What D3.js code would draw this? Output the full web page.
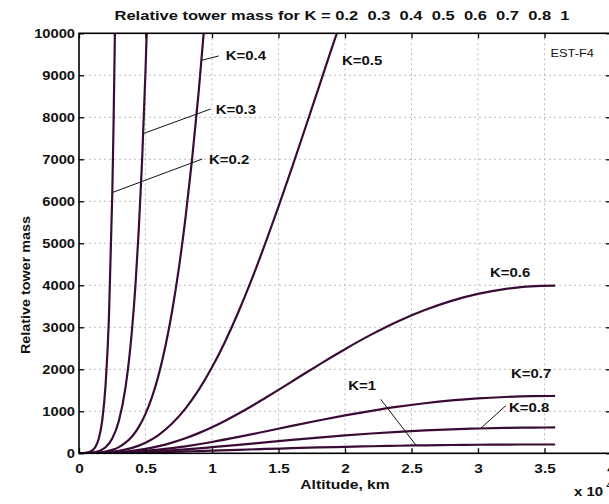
<!DOCTYPE html>
<html><head><meta charset="utf-8">
<script src="https://cdn.jsdelivr.net/npm/d3@7"></script>
<style>
html,body{margin:0;padding:0;background:#fff;overflow:hidden}
svg{display:block}
text{font-family:"Liberation Sans",Arial,sans-serif;font-weight:bold;fill:#111}
</style></head><body>
<script>
// ---------- data (altitude in 10^4 km, relative tower mass) ----------
const kNames = ["K=0.2","K=0.3","K=0.4","K=0.5","K=0.6","K=0.7","K=0.8","K=1"];
const altK02 = [0,0.05,0.1,0.125,0.15,0.175,0.2,0.225,0.25,0.26,0.27,0.28];
const massK02 = [1,9.5,67,161,366,792,1634,3228,6145,7868,10000,12690];
const altK03 = [0,0.05,0.1,0.15,0.2,0.25,0.3,0.35,0.375,0.4,0.425,0.45,0.475,0.5,0.525];
const massK03 = [1,4.5,17,53,144,350,774,1577,2189,2992,4029,5354,7019,9103,11620];
const altK04 = [0,0.1,0.15,0.2,0.25,0.3,0.35,0.4,0.45,0.5,0.55,0.6,0.65,0.7,0.75,0.8,0.85,0.9,0.95];
const massK04 = [1,8.3,20,42,81,147,252,407,630,939,1348,1879,2553,3381,4389,5589,6991,8612,10470];
const altK05 = [0,0.1,0.2,0.3,0.4,0.5,0.6,0.7,0.8,0.9,1.0,1.1,1.2,1.3,1.4,1.5,1.6,1.7,1.8,1.9,2.0];
const massK05 = [1,5.5,20,56,128,252,441,708,1063,1509,2047,2670,3375,4151,4991,5873,6789,7733,8685,9640,10570];
const altK06 = [0,0.1,0.2,0.3,0.4,0.5,0.6,0.7,0.8,0.9,1.0,1.1,1.2,1.3,1.4,1.5,1.6,1.7,1.8,1.9,2.0,2.2,2.4,2.6,2.8,3.0,3.2,3.4,3.58];
const massK06 = [1,4.2,12.7,30,60,106,170,254,357,480,621,777,947,1127,1317,1510,1708,1905,2100,2293,2479,2831,3145,3410,3630,3795,3907,3975,3990];
const altLow = [0,0.1,0.2,0.3,0.4,0.5,0.6,0.7,0.8,0.9,1.0,1.2,1.4,1.6,1.8,2.0,2.2,2.4,2.6,2.8,3.0,3.2,3.4,3.58];
const massK07 = [1,3.5,9.1,19,35,58,87,124,167,216,270,390,520,652,780,902,1012,1110,1191,1258,1308,1341,1361,1365];
const massK08 = [1,3.1,7.2,14,24,37,53,73,95,119,146,202,261,319,374,425,472,512,545,572,591,606,613,615];
const massK1  = [1,2.5,5.1,9,14,20,27,35.5,44,54,63,83,103,121,139,154,168,180,190,198,203,207,210,210];

const xTicks = [0,0.5,1,1.5,2,2.5,3,3.5,4];
const xTickLabels = ["0","0.5","1","1.5","2","2.5","3","3.5","4"];
const yTicks = [0,1000,2000,3000,4000,5000,6000,7000,8000,9000,10000];
const yTickLabels = ["0","1000","2000","3000","4000","5000","6000","7000","8000","9000","10000"];

// label anchors (data units): [text, altitude, mass]
const labelPos = [["K=0.2",0.977,7007],["K=0.3",1.028,8198],["K=0.4",1.103,9467],["K=0.5",1.977,9364],
                  ["K=0.6",3.09,4300],["K=0.7",3.248,1905],["K=0.8",3.233,1090],["K=1",2.025,1626]];
// leader lines (data units): [x1,y1,x2,y2]
const leaders = [[0.255,6214,0.927,7007],[0.49,7620,0.99,8198],[0.925,9360,1.05,9460],
                 [3.02,592,3.21,1138],[2.268,1286,2.534,192]];

const titleText = "Relative tower mass for K = 0.2  0.3  0.4  0.5  0.6  0.7  0.8  1";

// ---------- drawing ----------
const W=609,H=504;
const svg=d3.select("body").append("svg").attr("width",W).attr("height",H);
const L=79,R=611,T=33.3,B=453.3;
const x=d3.scaleLinear().domain([0,4]).range([L,R]);
const y=d3.scaleLinear().domain([0,10000]).range([B,T]);

function stretch(sel,f){ sel.each(function(){ const l=this.getComputedTextLength(); d3.select(this).attr("textLength",l*f).attr("lengthAdjust","spacingAndGlyphs"); }); }

// grid
const grid=svg.append("g").attr("stroke","#bdbdbd").attr("stroke-width",1).attr("stroke-dasharray","2,3");
grid.selectAll(".gx").data(xTicks.slice(1,-1)).join("line")
  .attr("x1",d=>x(d)).attr("x2",d=>x(d)).attr("y1",T).attr("y2",B);
grid.selectAll(".gy").data(yTicks.slice(1,-1)).join("line")
  .attr("x1",L).attr("x2",R).attr("y1",d=>y(d)).attr("y2",d=>y(d));

// curves
svg.append("clipPath").attr("id","clip").append("rect").attr("x",L).attr("y",T).attr("width",R-L).attr("height",B-T);
const series=[[altK02,massK02],[altK03,massK03],[altK04,massK04],[altK05,massK05],[altK06,massK06],
              [altLow,massK07],[altLow,massK08],[altLow,massK1]];
const line=d3.line().x(d=>x(d[0])).y(d=>y(d[1])).curve(d3.curveMonotoneX);
svg.append("g").attr("clip-path","url(#clip)").selectAll("path").data(series).join("path")
  .attr("d",s=>line(s[0].map((a,i)=>[a,s[1][i]])))
  .attr("fill","none").attr("stroke","#3a0c35").attr("stroke-width",2.2).attr("stroke-linejoin","round");

// axes
const fs=13;
const ax=svg.append("g").attr("transform",`translate(0,${B})`)
  .call(d3.axisBottom(x).tickValues(xTicks).tickFormat((d,i)=>xTickLabels[i]).tickSize(-5).tickSizeOuter(0).tickPadding(10));
const ay=svg.append("g").attr("transform",`translate(${L},0)`)
  .call(d3.axisLeft(y).tickValues(yTicks).tickFormat((d,i)=>yTickLabels[i]).tickSize(-5).tickSizeOuter(0).tickPadding(4));
const at=svg.append("g").attr("transform",`translate(0,${T})`)
  .call(d3.axisTop(x).tickValues(xTicks).tickFormat("").tickSize(-5).tickSizeOuter(0));
const ar=svg.append("g").attr("transform",`translate(${R},0)`)
  .call(d3.axisRight(y).tickValues(yTicks).tickFormat("").tickSize(-5).tickSizeOuter(0));
[ax,ay,at,ar].forEach(g=>{ g.select(".domain").remove(); g.selectAll("line").attr("stroke","#000").attr("stroke-width",1.3);
  g.selectAll("text").attr("font-size",fs).attr("font-family",null).attr("fill","#111"); });
stretch(ax.selectAll("text"),1.18);
stretch(ay.selectAll("text"),1.13);

// frame
svg.append("rect").attr("x",L).attr("y",T).attr("width",R-L).attr("height",B-T)
  .attr("fill","none").attr("stroke","#000").attr("stroke-width",1.6);

// leaders
svg.append("g").selectAll("line").data(leaders).join("line")
  .attr("x1",d=>x(d[0])).attr("y1",d=>y(d[1])).attr("x2",d=>x(d[2])).attr("y2",d=>y(d[3]))
  .attr("stroke","#111").attr("stroke-width",1);

// curve labels
const lab=svg.append("g").selectAll("text").data(labelPos).join("text")
  .attr("x",d=>x(d[1])).attr("y",d=>y(d[2])).attr("dy","0.35em").attr("font-size",fs).text(d=>d[0]);
stretch(lab,1.15);

// EST-F4
const est=svg.append("text").attr("x",x(3.545)).attr("y",y(9524)).attr("dy","0.35em")
  .attr("font-size",10.5).attr("font-weight","normal").style("font-weight","normal").attr("fill","#444").text("EST-F4");
stretch(est,1.22);

// title
const title=svg.append("text").attr("x",342).attr("y",19.7).attr("text-anchor","middle").attr("font-size",fs)
  .attr("xml:space","preserve").style("white-space","pre").text(titleText);
title.attr("textLength",455).attr("lengthAdjust","spacingAndGlyphs");

// axis titles
const xt=svg.append("text").attr("x",(L+R)/2).attr("y",488.6).attr("text-anchor","middle").attr("font-size",fs).text("Altitude, km");
stretch(xt,1.2);
const yt=svg.append("text").attr("transform","translate(29.5,285) rotate(-90)").attr("text-anchor","middle").attr("font-size",fs).text("Relative tower mass");
yt.attr("textLength",138).attr("lengthAdjust","spacingAndGlyphs");

// exponent
const ex=svg.append("text").attr("x",574).attr("y",496.3).attr("font-size",fs).text("x 10");
stretch(ex,1.15);
svg.append("text").attr("x",606.5).attr("y",488).attr("font-size",9).text("4");
</script>
</body></html>
